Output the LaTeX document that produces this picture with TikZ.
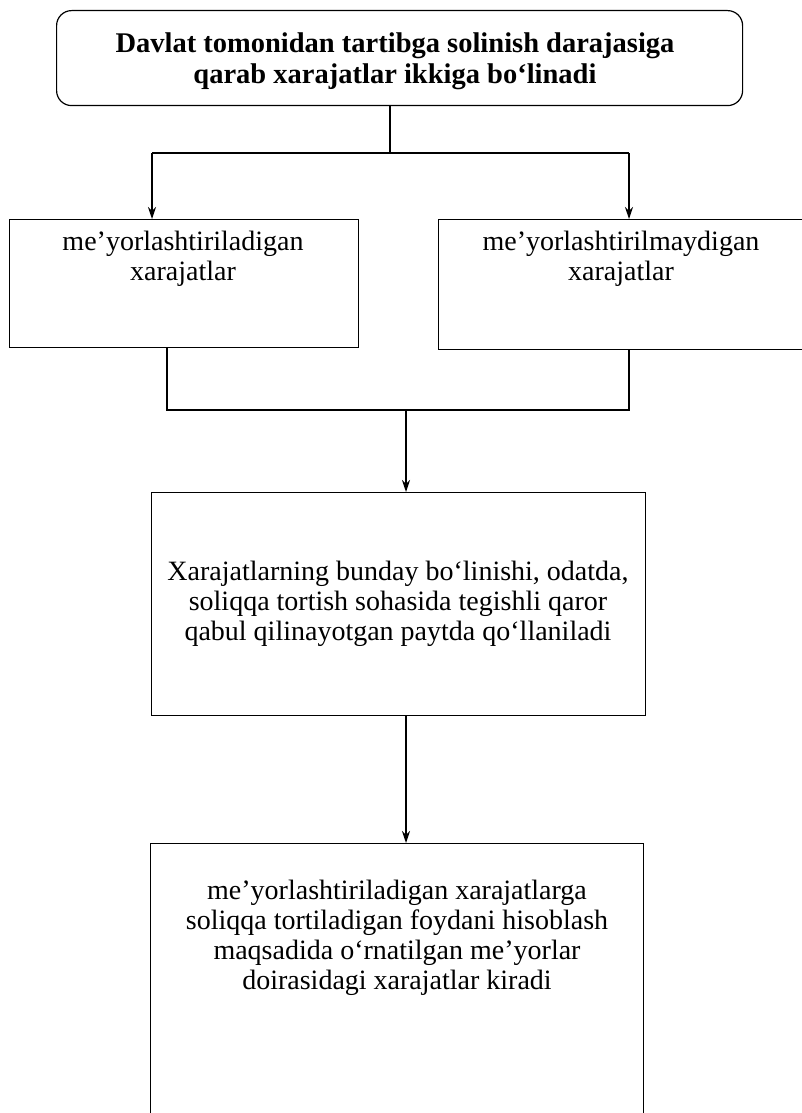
\documentclass[tikz,border=0pt]{standalone}
\usepackage{fontspec}
\setmainfont{Liberation Serif}
\usetikzlibrary{arrows.meta}
\begin{document}
\begin{tikzpicture}[x=1pt,y=-1pt, line width=1.2pt,
  box/.style={draw, rectangle, inner sep=0pt, anchor=north west},
  txt/.style={align=center, font=\fontsize{28}{30}\selectfont, inner sep=0pt},
  ttl/.style={align=center, font=\bfseries\fontsize{28.5}{31}\selectfont, inner sep=0pt},
  arr/.style={-{Stealth[length=12pt,width=8pt]}}]
\clip (0,0) rectangle (802,1113);
% boxes
\node[box, rounded corners=15pt, minimum width=686pt, minimum height=95pt] (top) at (56,10) {};
\node[box, minimum width=349pt, minimum height=128pt] (left) at (9,219) {};
\node[box, minimum width=368pt, minimum height=130pt] (right) at (438,219) {};
\node[box, minimum width=494pt, minimum height=223pt] (mid) at (151,492) {};
\node[box, minimum width=493pt, minimum height=300pt] (bot) at (150,843) {};
% texts
\node[ttl] (toptxt) at (395,61) {Davlat tomonidan tartibga solinish darajasiga\\qarab xarajatlar ikkiga bo‘linadi};
\node[txt] (lefttxt) at (183,259) {me’yorlashtiriladigan\\xarajatlar};
\node[txt] (righttxt) at (621,259) {me’yorlashtirilmaydigan\\xarajatlar};
\node[txt] (midtxt) at (398,604) {Xarajatlarning bunday bo‘linishi, odatda,\\soliqqa tortish sohasida tegishli qaror\\qabul qilinayotgan paytda qo‘llaniladi};
\node[txt] (bottxt) at (397,938) {me’yorlashtiriladigan xarajatlarga\\soliqqa tortiladigan foydani hisoblash\\maqsadida o‘rnatilgan me’yorlar\\doirasidagi xarajatlar kiradi};
% connectors
\coordinate (s1) at (390,153);
\coordinate (hl) at (152,153);
\coordinate (hr) at (629,153);
\draw (top.south -| s1) -- (s1);
\draw (hl) -- (hr);
\draw[arr] (hl) -- (hl |- left.north);
\draw[arr] (hr) -- (hr |- right.north);
\coordinate (bl) at (167,410);
\coordinate (br) at (629,410);
\coordinate (bm) at (406,410);
\draw (bl |- left.south) -- (bl) -- (br) -- (br |- right.south);
\draw[arr] (bm) -- (bm |- mid.north);
\draw[arr] (mid.south -| bm) -- (bm |- bot.north);
\end{tikzpicture}
\end{document}
